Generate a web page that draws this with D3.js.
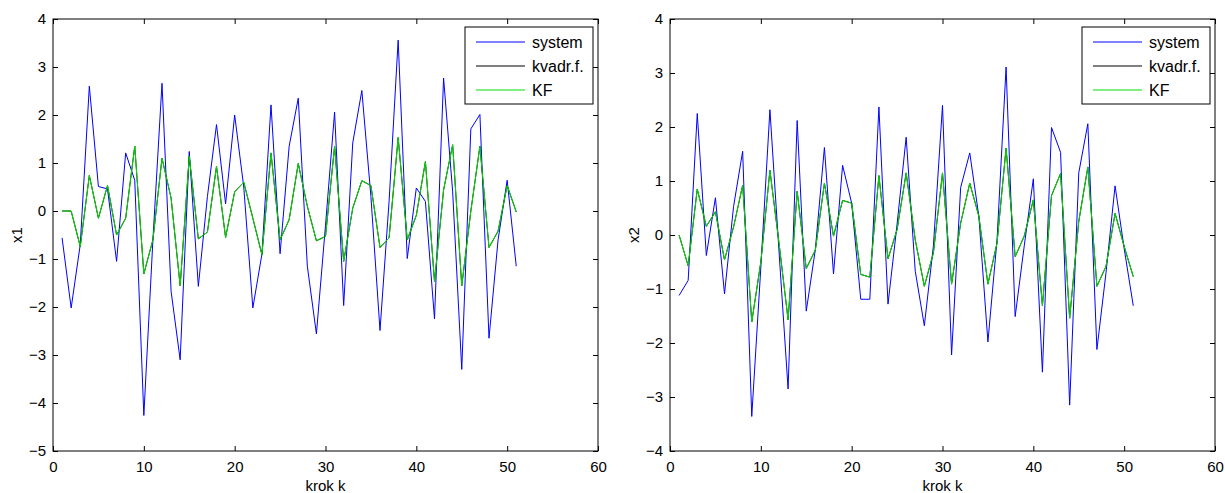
<!DOCTYPE html>
<html>
<head>
<meta charset="utf-8">
<script src="https://cdn.jsdelivr.net/npm/d3@7"></script>
<style>
  body { margin: 0; background: #fff; }
  text { font-family: Arial, "Liberation Sans", Helvetica, sans-serif; }
</style>
</head>
<body>
<script>
const W = 1225
const H = 493

// x1 panel
const x1System = [-0.56, -2.02, -0.7, 2.6, 0.51, 0.46, -1.05, 1.21, 0.64, -4.26,
  -0.6, 2.66, -1.67, -3.1, 1.24, -1.57, 0.3, 1.8, 0.15, 2.0,
  0.5, -2.02, -0.9, 2.21, -0.89, 1.35, 2.35, -1.15, -2.56, -0.3,
  2.06, -1.97, 1.42, 2.51, 0.3, -2.49, 0.2, 3.56, -0.99, 0.48,
  0.2, -2.25, 2.77, 0.4, -3.3, 1.71, 2.01, -2.65, -0.6, 0.64, -1.15]
const x1Kvadr = [0, 0, -0.74, 0.74, -0.15, 0.53, -0.5, -0.15, 1.35, -1.31,
  -0.6, 1.1, 0.27, -1.56, 1.14, -0.58, -0.44, 0.93, -0.55, 0.4,
  0.6, -0.15, -0.91, 1.21, -0.6, -0.18, 0.99, 0.1, -0.62, -0.53,
  1.35, -1.05, 0.06, 0.63, 0.53, -0.76, -0.56, 1.53, -0.6, -0.09,
  1.03, -1.47, 0.44, 1.38, -1.56, 0.0, 1.35, -0.76, -0.42, 0.53, -0.02]
const x1KF = [0, 0, -0.74, 0.74, -0.15, 0.53, -0.5, -0.15, 1.35, -1.31,
  -0.6, 1.1, 0.27, -1.56, 1.14, -0.58, -0.44, 0.93, -0.55, 0.4,
  0.6, -0.15, -0.91, 1.21, -0.6, -0.18, 0.99, 0.1, -0.62, -0.53,
  1.35, -1.05, 0.06, 0.63, 0.53, -0.76, -0.56, 1.53, -0.6, -0.09,
  1.03, -1.47, 0.44, 1.38, -1.56, 0.0, 1.35, -0.76, -0.42, 0.53, -0.02]

// x2 panel
const x2System = [-1.12, -0.84, 2.25, -0.38, 0.69, -1.09, 0.53, 1.55, -3.36, -0.6,
  2.32, -0.3, -2.85, 2.12, -1.41, -0.27, 1.62, -0.72, 1.29, 0.59,
  -1.19, -1.19, 2.37, -1.28, 0.2, 1.81, -0.67, -1.68, -0.2, 2.4,
  -2.22, 0.88, 1.52, 0.35, -1.98, -0.1, 3.11, -1.51, -0.2, 1.04,
  -2.54, 1.99, 1.53, -3.15, 1.15, 2.06, -2.12, -0.7, 0.91, -0.25, -1.31]
const x2Kvadr = [0, -0.57, 0.85, 0.16, 0.43, -0.46, 0.15, 0.92, -1.61, -0.5,
  1.2, -0.15, -1.57, 0.81, -0.62, -0.28, 0.96, -0.02, 0.64, 0.59,
  -0.73, -0.78, 1.1, -0.44, 0.1, 1.15, -0.09, -0.95, -0.33, 1.15,
  -0.91, 0.22, 0.96, 0.35, -0.91, -0.15, 1.61, -0.4, -0.02, 0.65,
  -1.31, 0.73, 1.14, -1.54, 0.25, 1.26, -0.95, -0.58, 0.4, -0.21, -0.77]
const x2KF = [0, -0.57, 0.85, 0.16, 0.43, -0.46, 0.15, 0.92, -1.61, -0.5,
  1.2, -0.15, -1.57, 0.81, -0.62, -0.28, 0.96, -0.02, 0.64, 0.59,
  -0.73, -0.78, 1.1, -0.44, 0.1, 1.15, -0.09, -0.95, -0.33, 1.15,
  -0.91, 0.22, 0.96, 0.35, -0.91, -0.15, 1.61, -0.4, -0.02, 0.65,
  -1.31, 0.73, 1.14, -1.54, 0.25, 1.26, -0.95, -0.58, 0.4, -0.21, -0.77]

const xTicks = [0, 10, 20, 30, 40, 50, 60]
const x1Ticks = [-5, -4, -3, -2, -1, 0, 1, 2, 3, 4]
const x2Ticks = [-4, -3, -2, -1, 0, 1, 2, 3, 4]
const legendNames = ['system', 'kvadr.f.', 'KF']
const colors = ['#0000ff', '#000000', '#00e000']

const svg = d3.select('body').append('svg')
  .attr('width', W)
  .attr('height', H)

const drawPanel = (left, yTicks, yLabel, series) => {
  const top = 19
  const pw = 545
  const ph = 432

  const x = d3.scaleLinear().domain([0, 60]).range([left, left + pw])
  const y = d3.scaleLinear().domain([yTicks[0], yTicks[yTicks.length - 1]]).range([top + ph, top])

  const g = svg.append('g')

  const styleAxis = sel => {
    sel.select('.domain').remove()
    sel.selectAll('.tick line').attr('stroke', '#000')
    sel.selectAll('.tick text')
      .attr('fill', '#000')
      .style('font-size', '15px')
  }

  g.append('g')
    .attr('transform', `translate(0,${top + ph})`)
    .call(d3.axisBottom(x).tickValues(xTicks).tickSizeInner(-5).tickSizeOuter(0).tickPadding(10))
    .call(styleAxis)
  g.append('g')
    .attr('transform', `translate(0,${top})`)
    .call(d3.axisTop(x).tickValues(xTicks).tickSizeInner(-5).tickSizeOuter(0).tickFormat(''))
    .call(styleAxis)
  g.append('g')
    .attr('transform', `translate(${left},0)`)
    .call(d3.axisLeft(y).tickValues(yTicks).tickSizeInner(-5).tickSizeOuter(0).tickPadding(7))
    .call(styleAxis)
  g.append('g')
    .attr('transform', `translate(${left + pw},0)`)
    .call(d3.axisRight(y).tickValues(yTicks).tickSizeInner(-5).tickSizeOuter(0).tickFormat(''))
    .call(styleAxis)

  const line = d3.line()
    .x((d, i) => x(i + 1))
    .y(d => y(d))

  series.forEach((s, i) => {
    g.append('path')
      .datum(s)
      .attr('fill', 'none')
      .attr('stroke', colors[i])
      .attr('stroke-width', 1)
      .attr('d', line)
  })

  g.append('rect')
    .attr('x', left)
    .attr('y', top)
    .attr('width', pw)
    .attr('height', ph)
    .attr('fill', 'none')
    .attr('stroke', '#000')
    .attr('stroke-width', 1)

  // legend
  const lx = left + pw - 133
  const ly = top + 8
  const leg = g.append('g').attr('transform', `translate(${lx},${ly})`)
  leg.append('rect')
    .attr('width', 128)
    .attr('height', 77)
    .attr('fill', '#fff')
    .attr('stroke', '#000')
  legendNames.forEach((name, i) => {
    leg.append('line')
      .attr('x1', 11).attr('x2', 60)
      .attr('y1', 15 + i * 24).attr('y2', 15 + i * 24)
      .attr('stroke', colors[i])
    leg.append('text')
      .attr('x', 67)
      .attr('y', 15 + i * 24)
      .attr('dy', '0.35em')
      .style('font-size', '16px')
      .text(name)
  })

  g.append('text')
    .attr('x', left + pw / 2)
    .attr('y', 491)
    .attr('text-anchor', 'middle')
    .style('font-size', '15px')
    .text('krok k')

  g.append('text')
    .attr('transform', `translate(${left - 36},${top + ph / 2}) rotate(-90)`)
    .attr('text-anchor', 'middle')
    .attr('dy', '0.35em')
    .style('font-size', '15px')
    .text(yLabel)
}

drawPanel(53, x1Ticks, 'x1', [x1System, x1Kvadr, x1KF])
drawPanel(670, x2Ticks, 'x2', [x2System, x2Kvadr, x2KF])
</script>
</body>
</html>
